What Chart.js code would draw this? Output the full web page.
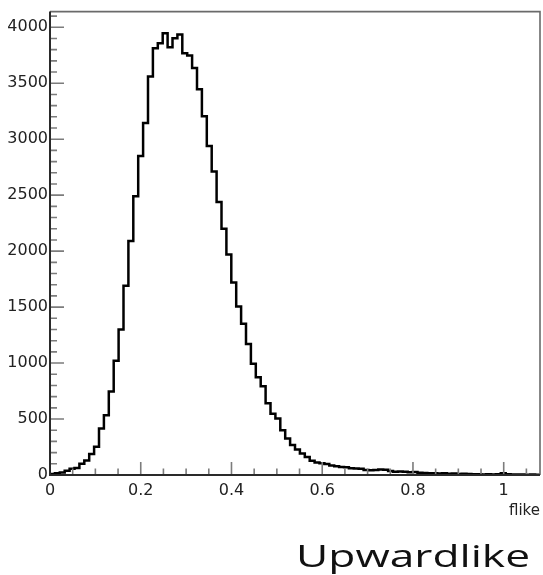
<!DOCTYPE html>
<html>
<head>
<meta charset="utf-8">
<script src="https://cdn.jsdelivr.net/npm/chart.js@4/dist/chart.umd.min.js"></script>
<style>
html,body{margin:0;padding:0;background:#fff;}
canvas{display:block;}
</style>
</head>
<body>
<canvas id="c" width="543" height="575"></canvas>
<script>
// ---- data ----
const xMin = 0;
const xMax = 1.08;
const binWidth = 0.0108;
const yMax = 4140;
const counts = [
  10, 15, 22, 38, 55, 62, 100, 130, 187, 252,
  415, 533, 745, 1020, 1300, 1690, 2090, 2490, 2850, 3145,
  3560, 3813, 3858, 3947, 3822, 3902, 3935, 3769, 3748, 3636,
  3446, 3205, 2940, 2711, 2440, 2200, 1970, 1719, 1505, 1351,
  1170, 993, 874, 794, 640, 548, 504, 400, 326, 267,
  228, 193, 160, 127, 112, 104, 98, 85, 78, 72,
  70, 60, 58, 55, 45, 42, 44, 50, 48, 35,
  30, 32, 28, 25, 26, 20, 18, 15, 16, 14,
  15, 12, 14, 10, 12, 8, 6, 7, 5, 6,
  5, 6, 15, 6, 4, 5, 4, 3, 4, 3
];
const yMajorTicks = [0, 500, 1000, 1500, 2000, 2500, 3000, 3500, 4000];
const yMinorTicks = [100, 200, 300, 400, 600, 700, 800, 900, 1100, 1200, 1300, 1400,
  1600, 1700, 1800, 1900, 2100, 2200, 2300, 2400, 2600, 2700, 2800, 2900,
  3100, 3200, 3300, 3400, 3600, 3700, 3800, 3900, 4100];
const xMajorTicks = [0, 0.2, 0.4, 0.6, 0.8, 1];
const xMinorTicks = [0.05, 0.1, 0.15, 0.25, 0.3, 0.35, 0.45, 0.5, 0.55, 0.65, 0.7, 0.75,
  0.85, 0.9, 0.95, 1.05];
const xTitle = 'flike';
const caption = 'Upwardlike';

// ---- build histogram step points from bin edges ----
const points = counts.map((c, i) => ({x: xMin + i * binWidth, y: c}));
points.push({x: xMin + counts.length * binWidth, y: counts[counts.length - 1]});

const rootFrame = {
  id: 'rootFrame',
  afterDatasetsDraw(chart) {
    const {ctx, chartArea: a, scales: {x, y}} = chart;
    ctx.save();
    ctx.strokeStyle = '#7c7c7c';
    ctx.lineWidth = 1.6;
    ctx.beginPath();
    yMajorTicks.forEach(v => { const p = y.getPixelForValue(v); ctx.moveTo(a.left, p); ctx.lineTo(a.left + 14, p); });
    yMinorTicks.forEach(v => { const p = y.getPixelForValue(v); ctx.moveTo(a.left, p); ctx.lineTo(a.left + 7, p); });
    xMajorTicks.forEach(v => { const p = x.getPixelForValue(v); ctx.moveTo(p, a.bottom); ctx.lineTo(p, a.bottom - 13); });
    xMinorTicks.forEach(v => { const p = x.getPixelForValue(v); ctx.moveTo(p, a.bottom); ctx.lineTo(p, a.bottom - 6.5); });
    ctx.stroke();
    // frame top/right
    ctx.strokeStyle = '#6a6a6a';
    ctx.lineWidth = 1.6;
    ctx.beginPath();
    ctx.moveTo(a.left, a.top); ctx.lineTo(a.right, a.top); ctx.lineTo(a.right, a.bottom);
    ctx.stroke();
    // axes
    ctx.strokeStyle = '#2a2a2a';
    ctx.lineWidth = 2;
    ctx.beginPath();
    ctx.moveTo(a.left, a.top); ctx.lineTo(a.left, a.bottom); ctx.lineTo(a.right, a.bottom);
    ctx.stroke();
    ctx.restore();
  },
  afterDraw(chart) {
    const ctx = chart.ctx;
    ctx.save();
    ctx.font = '31px "Open Sans"';
    ctx.fillStyle = '#111';
    ctx.textAlign = 'right';
    ctx.textBaseline = 'alphabetic';
    const w = ctx.measureText(caption).width;
    const s = 234 / w;
    ctx.translate(530, 567);
    ctx.scale(s, 1);
    ctx.fillText(caption, 0, 0);
    ctx.restore();
  }
};

new Chart(document.getElementById('c'), {
  type: 'line',
  data: {
    datasets: [{
      data: points,
      stepped: true,
      borderColor: '#000',
      borderWidth: 2.5,
      pointRadius: 0,
      fill: false,
      tension: 0
    }]
  },
  options: {
    responsive: false,
    animation: false,
    layout: {padding: {top: 9, right: 3, left: 0, bottom: 0}},
    plugins: {legend: {display: false}, tooltip: {enabled: false}, title: {display: false}},
    scales: {
      x: {
        type: 'linear',
        min: xMin,
        max: xMax,
        afterFit(scale) { scale.height = 100; },
        afterBuildTicks(scale) { scale.ticks = xMajorTicks.map(v => ({value: v})); },
        grid: {display: false, drawTicks: false},
        border: {display: false},
        ticks: {
          autoSkip: false,
          maxRotation: 0,
          padding: 6,
          color: '#222',
          font: {family: 'DejaVu Sans', size: 16},
          callback: v => String(v)
        },
        title: {
          display: true,
          text: xTitle,
          align: 'end',
          color: '#222',
          font: {family: 'DejaVu Sans', size: 15},
          padding: {top: 0, bottom: 55}
        }
      },
      y: {
        type: 'linear',
        min: 0,
        max: yMax,
        afterFit(scale) { scale.width = 50; },
        afterBuildTicks(scale) { scale.ticks = yMajorTicks.map(v => ({value: v})); },
        grid: {display: false, drawTicks: false},
        border: {display: false},
        ticks: {
          autoSkip: false,
          padding: 2,
          color: '#222',
          font: {family: 'DejaVu Sans', size: 16},
          callback: v => String(v)
        }
      }
    }
  },
  plugins: [rootFrame]
});
</script>
</body>
</html>
